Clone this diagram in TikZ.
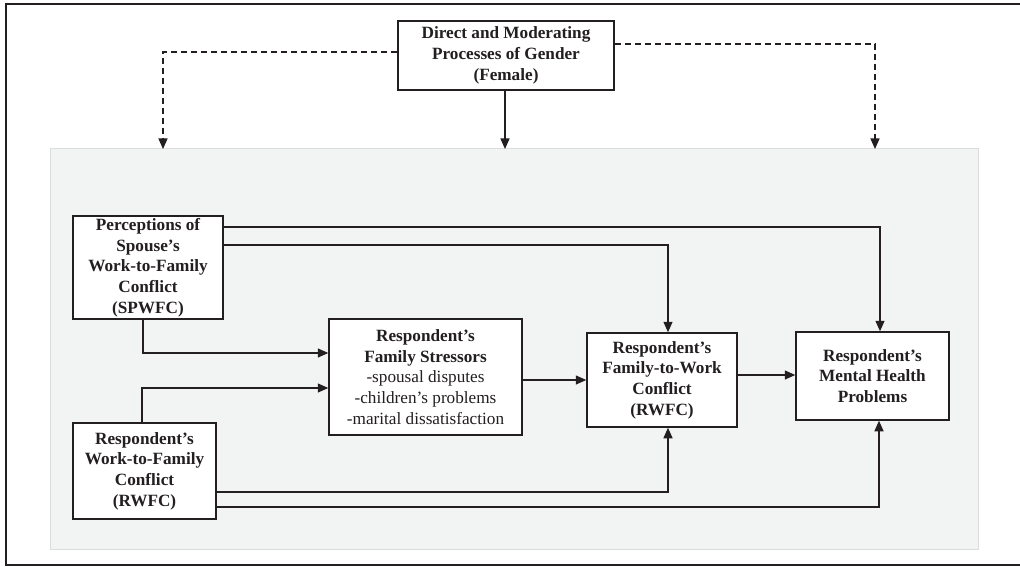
\documentclass[tikz,border=0pt]{standalone}
\usepackage{fontspec}
\setmainfont{Liberation Serif}
\usetikzlibrary{arrows.meta}
\definecolor{ink}{HTML}{231F20}
\definecolor{panelfill}{HTML}{F2F3F3}
\definecolor{panelline}{HTML}{DADDDC}
\tikzset{
  box/.style={draw=ink, line width=1.5pt, fill=white, inner sep=0pt, align=center,
    text=ink, font=\fontsize{17.2}{20.7}\selectfont\bfseries},
  plainbox/.style={box, font=\fontsize{17.2}{20.7}\selectfont},
  link/.style={draw=ink, line width=1.4pt, -{Triangle[length=10.5pt,width=9pt]}},
  dashlink/.style={link, dash pattern=on 6pt off 4pt},
  frameline/.style={draw=ink, line width=2.3pt}
}
\begin{document}
\begin{tikzpicture}[x=1pt,y=-1pt]
\useasboundingbox (0,0) rectangle (1020,567);
\filldraw[fill=panelfill, draw=panelline, line width=1pt] (50,149) rectangle (978,549);
\draw[frameline] (1020,4) -- (6,4) -- (6,565) -- (1020,565);

\node[box, minimum width=216pt, minimum height=69pt] (gender) at (506,55.5)
  {Direct and Moderating\\Processes of Gender\\(Female)};
\node[box, minimum width=150pt, minimum height=103pt] (spwfc) at (148,267.5)
  {Perceptions of\\Spouse's\\Work-to-Family\\Conflict\\(SPWFC)};
\node[plainbox, minimum width=193pt, minimum height=116pt] (stress) at (425.5,377)
  {\textbf{Respondent's}\\\textbf{Family Stressors}\\-spousal disputes\\-children's problems\\-marital dissatisfaction};
\node[box, minimum width=150pt, minimum height=94pt] (fwc) at (662,380)
  {Respondent's\\Family-to-Work\\Conflict\\(RWFC)};
\node[box, minimum width=153pt, minimum height=88pt] (mh) at (872.5,376)
  {Respondent's\\Mental Health\\Problems};
\node[box, minimum width=143pt, minimum height=96pt] (rwfc) at (144.5,471)
  {Respondent's\\Work-to-Family\\Conflict\\(RWFC)};

\coordinate (pl) at (163,149);
\coordinate (pc) at (505,149);
\coordinate (pr) at (875,149);

\draw[dashlink] (gender.west |- 0,52) -| (pl);
\draw[dashlink] (gender.east |- 0,44) -| (pr);
\draw[link] (gender.south -| pc) -- (pc);

\draw[link] (spwfc.east |- 0,227) -| (mh.north -| 880,0);
\draw[link] (spwfc.east |- 0,245) -| (fwc.north -| 668,0);
\draw[link] (spwfc.south -| 143,0) |- (stress.west |- 0,353);
\draw[link] (rwfc.north -| 142,0) |- (stress.west |- 0,388);
\draw[link] (stress.east |- 0,380) -- (fwc.west |- 0,380);
\draw[link] (fwc.east |- 0,375) -- (mh.west |- 0,375);
\draw[link] (rwfc.east |- 0,492) -| (fwc.south -| 668,0);
\draw[link] (rwfc.east |- 0,507) -| (mh.south -| 879,0);
\end{tikzpicture}
\end{document}
